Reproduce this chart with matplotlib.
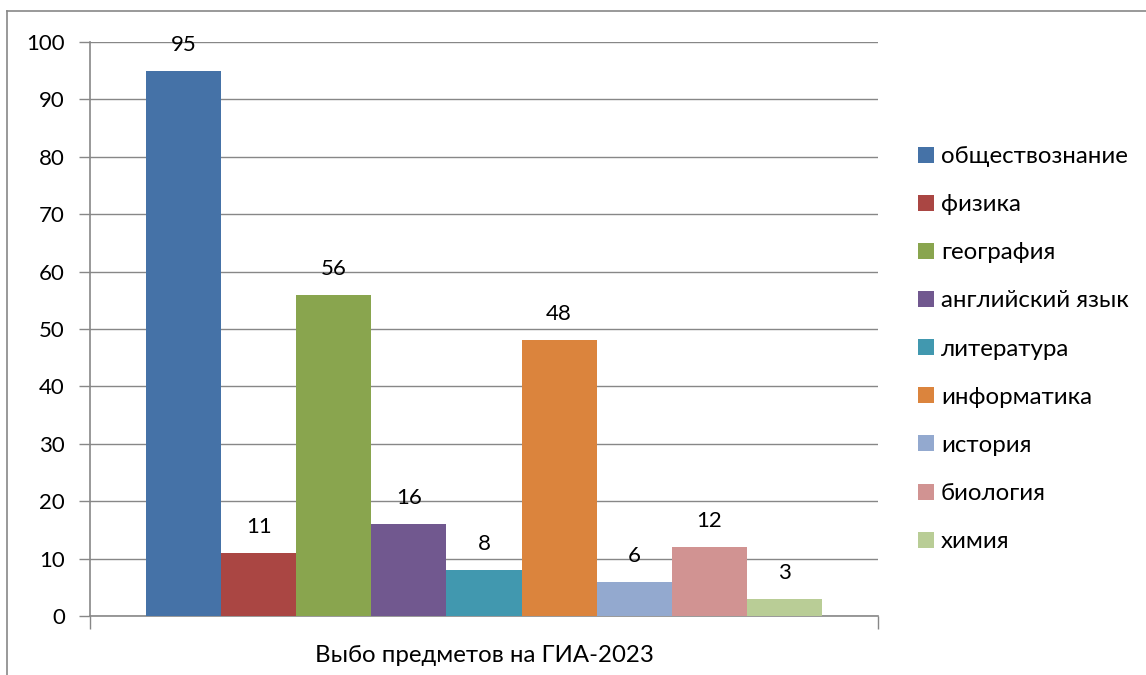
import matplotlib
matplotlib.use("Agg")
import matplotlib.pyplot as plt
from matplotlib.lines import Line2D

subjects = ["обществознание", "физика", "география", "английский язык", "литература",
            "информатика", "история", "биология", "химия"]
values = [95, 11, 56, 16, 8, 48, 6, 12, 3]
colors = ["#4572A7", "#AA4643", "#89A54E", "#71588F", "#4198AF",
          "#DB843D", "#93A9CF", "#D19392", "#B9CD96"]
category = "Выбо предметов на ГИА-2023"
yticks = list(range(0, 101, 10))

plt.rcParams['font.family'] = ['Lato', 'DejaVu Sans']
W, H = 1146, 675
fig = plt.figure(figsize=(W/100, H/100), dpi=100)
ax = fig.add_axes([90/W, 1-616/H, (878-90)/W, (616-42)/H])

NUM_FS = 16
TXT_FS = 17.3

bw = 75.1 / 788
start = 56 / 788
for i, (s, v, c) in enumerate(zip(subjects, values, colors)):
    x = start + (i + 0.5) * bw
    ax.bar(x, v, width=bw, color=c, label=s, zorder=3, linewidth=0)
    ax.annotate(str(v), (x, v), xytext=(0, 26), textcoords='offset pixels',
                ha='center', va='center', fontsize=NUM_FS, color='black')

ax.set_xlim(0, 1)
ax.set_ylim(0, 100)
ax.set_yticks(yticks)
ax.tick_params(axis='y', length=8, color='#878787', width=1, labelsize=NUM_FS, pad=10)
ax.set_xticks([0, 1])
ax.set_xticklabels(["", ""])
ax.tick_params(axis='x', length=9, color='#878787', width=1)
ax.grid(axis='y', color='#878787', linewidth=1, zorder=0)
for s in ['top', 'right']:
    ax.spines[s].set_visible(False)
for s in ['left', 'bottom']:
    ax.spines[s].set_color('#878787')
    ax.spines[s].set_linewidth(1.2)
ax.text(484/W, 1-655/H, category, transform=fig.transFigure, ha='center', va='center', fontsize=TXT_FS)

leg = ax.legend(loc='upper left', bbox_to_anchor=(918/W, 1-146/H), bbox_transform=fig.transFigure,
                frameon=False, fontsize=TXT_FS, handlelength=0.65, handleheight=0.65, handletextpad=0.3,
                labelspacing=1.13, borderaxespad=0, borderpad=0)

fig.add_artist(Line2D([7/W, 1], [1-11/H, 1-11/H], transform=fig.transFigure, color='#878787', linewidth=1.2))
fig.add_artist(Line2D([7/W, 7/W], [1-11/H, 0], transform=fig.transFigure, color='#878787', linewidth=1.2))

fig.savefig("out.png", dpi=100)
